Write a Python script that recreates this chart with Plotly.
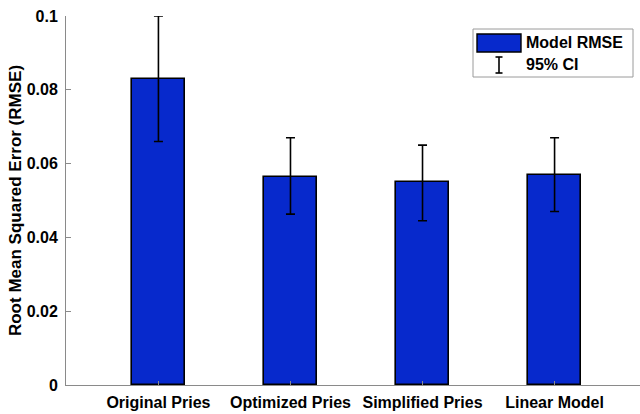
import plotly.graph_objects as go

# Model comparison: mean RMSE with 95% confidence bounds
models = ["Original Pries", "Optimized Pries", "Simplified Pries", "Linear Model"]
rmse = [0.083, 0.0565, 0.055, 0.057]
ci_upper = [0.100, 0.067, 0.065, 0.067]
ci_lower = [0.066, 0.0463, 0.0445, 0.047]
y_ticks = [0, 0.02, 0.04, 0.06, 0.08, 0.1]
y_tick_labels = ["0", "0.02", "0.04", "0.06", "0.08", "0.1"]

W, H = 640, 414
ML, MR, MT, MB = 66, 0, 16, 29
BLUE = "#0729CC"
AXIS_GRAY = "#8a8a8a"
FONT = "Liberation Sans, Arial, sans-serif"
FS = 16

err_plus = [u - m for u, m in zip(ci_upper, rmse)]
err_minus = [m - l for m, l in zip(rmse, ci_lower)]

fig = go.Figure()
fig.add_trace(go.Bar(
    x=list(range(len(models))),
    y=rmse,
    width=0.4,
    marker=dict(color=BLUE, line=dict(color="black", width=1.6)),
    error_y=dict(type="data", symmetric=False, array=err_plus, arrayminus=err_minus,
                 color="black", thickness=1.6, width=4.5),
    showlegend=False,
))

# Pixel -> paper helpers for the hand-drawn legend box
pw = W - ML - MR
ph = H - MT - MB
def px(x):
    return (x - ML) / pw
def py(y):
    return (H - MB - y) / ph

shapes = [
    dict(type="rect", xref="paper", yref="paper", x0=px(473), x1=px(633), y0=py(29), y1=py(77),
         line=dict(color="#9a9a9a", width=1), fillcolor="white"),
    dict(type="rect", xref="paper", yref="paper", x0=px(477), x1=px(521), y0=py(34), y1=py(52),
         line=dict(color="black", width=1.4), fillcolor=BLUE),
    dict(type="line", xref="paper", yref="paper", x0=px(499), x1=px(499), y0=py(57), y1=py(73),
         line=dict(color="black", width=1.6)),
    dict(type="line", xref="paper", yref="paper", x0=px(495.5), x1=px(502.5), y0=py(57), y1=py(57),
         line=dict(color="black", width=1.6)),
    dict(type="line", xref="paper", yref="paper", x0=px(495.5), x1=px(502.5), y0=py(73), y1=py(73),
         line=dict(color="black", width=1.6)),
]
annotations = [
    dict(xref="paper", yref="paper", x=px(524), y=py(43), text="<b>Model RMSE</b>", showarrow=False,
         xanchor="left", yanchor="middle", font=dict(family=FONT, size=FS, color="black")),
    dict(xref="paper", yref="paper", x=px(524), y=py(65), text="<b>95% CI</b>", showarrow=False,
         xanchor="left", yanchor="middle", font=dict(family=FONT, size=FS, color="black")),
]

fig.update_layout(
    width=W, height=H,
    margin=dict(l=ML, r=MR, t=MT, b=MB),
    paper_bgcolor="white", plot_bgcolor="white",
    font=dict(family=FONT, color="black"),
    shapes=shapes, annotations=annotations,
    bargap=0,
)
fig.update_xaxes(
    range=[-0.7, 3.647],
    tickvals=list(range(len(models))), ticktext=models,
    tickfont=dict(family=FONT, size=FS, weight="bold", color="black"),
    ticklabelstandoff=3,
    showline=True, linecolor=AXIS_GRAY, linewidth=1,
    ticks="inside", ticklen=4, tickcolor=AXIS_GRAY,
    showgrid=False, zeroline=False,
)
fig.update_yaxes(
    range=[0, 0.1],
    tickvals=y_ticks, ticktext=y_tick_labels,
    tickfont=dict(family=FONT, size=FS, weight="bold", color="black"),
    ticklabelstandoff=4,
    title=dict(text="Root Mean Squared Error (RMSE)", standoff=0,
               font=dict(family=FONT, size=17, weight="bold", color="black")),
    showline=True, linecolor=AXIS_GRAY, linewidth=1,
    ticks="inside", ticklen=5, tickcolor=AXIS_GRAY,
    showgrid=False, zeroline=False,
)

fig.write_html("out.html")
